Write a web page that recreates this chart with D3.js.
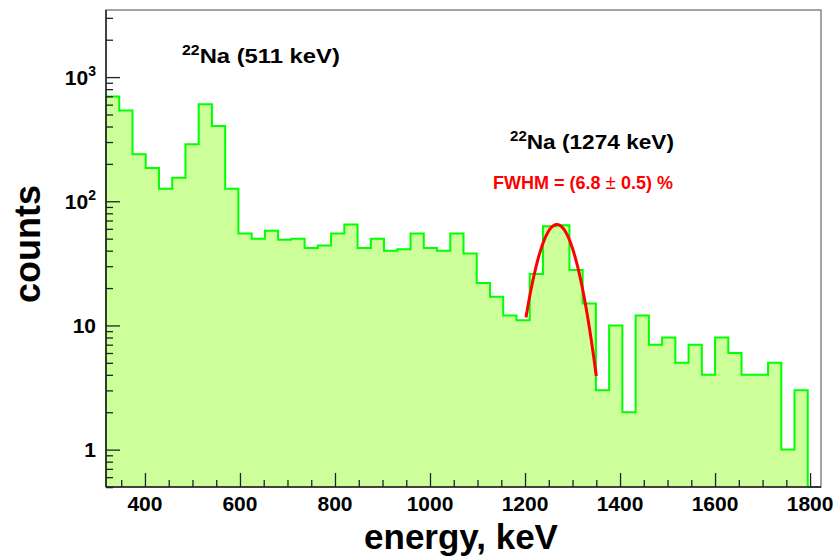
<!DOCTYPE html>
<html><head><meta charset="utf-8">
<script src="https://cdn.jsdelivr.net/npm/d3@7"></script>
<style>body{margin:0;background:#fff}svg{display:block}</style>
</head><body><svg id="c" width="836" height="557"></svg>
<script>
// ---------- data ----------
const histRange = [318, 1823];           // keV, histogram range (54 equal bins)
const counts = [699,539,239,185,126,155,288,603,403,126,
                55,50,58,49,50,42,44,55,65,42,
                50,40,41,55,42,40,55,38,22,17,
                12,11,26,63,64,28,15,3,10,2,
                12,7,8,5,7,4,8,6,4,4,
                5,1,3,0];
const yDomain = [0.5, 3470];
const xTickValues = [400,600,800,1000,1200,1400,1600,1800];
const xTickLabels = ["400","600","800","1000","1200","1400","1600","1800"];
const yTickValues = [1,10,100,1000];
const yTickBase = ["1","10","10","10"];
const yTickExp = ["","","2","3"];
const fitMean = 1267, fitSigma = 35, fitAmp = 65, fitFrom = 1202, fitTo = 1350;
const xTitle = "energy, keV";
const yTitle = "counts";

// ---------- layout ----------
const W = 836, H = 557;
const m = {left:106, right:821, top:10, bottom:487};
const FONT = "'Liberation Sans', Arial, Helvetica, sans-serif";
const svg = d3.select("#c");
svg.append("rect").attr("width",W).attr("height",H).attr("fill","#fff");

const x = d3.scaleLinear().domain(histRange).range([m.left, m.right]);
const y = d3.scaleLog().domain(yDomain).range([m.bottom, m.top]);

const nb = counts.length;
const bw = (histRange[1]-histRange[0])/nb;
const edges = d3.range(nb+1).map(i => histRange[0] + i*bw);

// histogram path (step)
const yv = c => y(Math.max(c, yDomain[0]));
let pts = [[x(edges[0]), m.bottom]];
counts.forEach((c,i) => {
  pts.push([x(edges[i]), yv(c)]);
  pts.push([x(edges[i+1]), yv(c)]);
});
pts.push([x(edges[nb]), m.bottom]);
const line = d3.line();
svg.append("path").attr("d", line(pts) + "Z").attr("fill","#ccff99").attr("stroke","none");
svg.append("path").attr("d", line(pts)).attr("fill","none")
  .attr("stroke","#00ff00").attr("stroke-width",2).attr("stroke-linejoin","miter");

// fit curve
const gauss = e => fitAmp*Math.exp(-((e-fitMean)**2)/(2*fitSigma*fitSigma));
const fitPts = d3.range(0, 201).map(i => { const e = fitFrom + (fitTo-fitFrom)*i/200; return [x(e), y(gauss(e))]; });
svg.append("path").attr("d", d3.line()(fitPts)).attr("fill","none")
  .attr("stroke","#ff0000").attr("stroke-width",3);

// frame
svg.append("rect").attr("x",m.left).attr("y",m.top).attr("width",m.right-m.left).attr("height",m.bottom-m.top)
  .attr("fill","none").attr("stroke","#666").attr("stroke-width",1.2);
svg.append("line").attr("x1",m.left).attr("x2",m.left).attr("y1",m.top).attr("y2",m.bottom).attr("stroke","#222").attr("stroke-width",1.5);
svg.append("line").attr("x1",m.left).attr("x2",m.right).attr("y1",m.bottom).attr("y2",m.bottom).attr("stroke","#222").attr("stroke-width",1.5);

// x ticks via d3 axis (inward)
const xMinor = d3.range(350, 1801, 50).filter(v => v % 200 !== 0);
const gx = svg.append("g").attr("transform",`translate(0,${m.bottom})`);
gx.call(d3.axisTop(x).tickValues(xMinor).tickSize(7).tickFormat(""));
gx.append("g").call(d3.axisTop(x).tickValues(xTickValues).tickSize(14).tickFormat(""));
gx.selectAll("path.domain").remove();
gx.selectAll("line").attr("stroke","#222").attr("stroke-width",1.3);
gx.selectAll("text.xl").data(xTickValues).join("text").attr("class","xl")
  .attr("x", d => x(d)).attr("y", 24).attr("text-anchor","middle")
  .attr("font-family",FONT).attr("font-weight","bold").attr("font-size",21).attr("fill","#000")
  .text((d,i) => xTickLabels[i]);

// y ticks (inward)
let yMinor = [];
for (let k=-1;k<=3;k++) for (let j=2;j<=9;j++) { const v=j*10**k; if (v>=yDomain[0] && v<=yDomain[1]) yMinor.push(v); }
yMinor.push(0.5);
const gy = svg.append("g").attr("transform",`translate(${m.left},0)`);
gy.call(d3.axisRight(y).tickValues(yMinor).tickSize(7).tickFormat(""));
gy.append("g").call(d3.axisRight(y).tickValues(yTickValues).tickSize(14).tickFormat(""));
gy.selectAll("path.domain").remove();
gy.selectAll("line").attr("stroke","#222").attr("stroke-width",1.3);
yTickValues.forEach((v,i) => {
  const t = svg.append("text").attr("x", 96).attr("y", y(v)+7.5).attr("text-anchor","end")
    .attr("font-family",FONT).attr("font-weight","bold").attr("font-size",21).attr("fill","#000");
  t.append("tspan").text(yTickBase[i]);
  if (yTickExp[i]) t.append("tspan").attr("dy",-9).attr("font-size",14).text(yTickExp[i]);
});

// axis titles
svg.append("text").attr("x", 461).attr("y", 549).attr("text-anchor","middle")
  .attr("font-family",FONT).attr("font-weight","bold").attr("font-size",35).attr("fill","#000").text(xTitle);
svg.append("text").attr("transform","translate(40,244) rotate(-90)").attr("text-anchor","middle")
  .attr("font-family",FONT).attr("font-weight","bold").attr("font-size",36).attr("fill","#000").text(yTitle);

// annotations, fitted horizontally to the measured width
function label(x0, y0, parts, width, color) {
  const g = svg.append("g").attr("transform",`translate(${x0},${y0})`);
  const t = g.append("text").attr("x",0).attr("y",0).attr("font-family",FONT).attr("fill",color);
  parts.forEach(p => {
    const s = t.append("tspan").text(p.t).attr("font-size",p.fs).attr("font-weight",p.fw||"bold");
    if (p.dy) s.attr("dy",p.dy);
  });
  const w = t.node().getComputedTextLength();
  if (w > 0) g.attr("transform",`translate(${x0},${y0}) scale(${width/w},1)`);
}
label(182, 63, [{t:"22",fs:14,dy:-8},{t:"Na (511 keV)",fs:21,dy:8}], 158, "#000");
label(510, 149, [{t:"22",fs:14,dy:-8},{t:"Na (1274 keV)",fs:21,dy:8}], 164, "#000");
label(493, 189, [{t:"FWHM = (6.8 ",fs:19},{t:"±",fs:20,fw:"normal"},{t:" 0.5) %",fs:19}], 180, "#ff0000");
</script></body></html>
